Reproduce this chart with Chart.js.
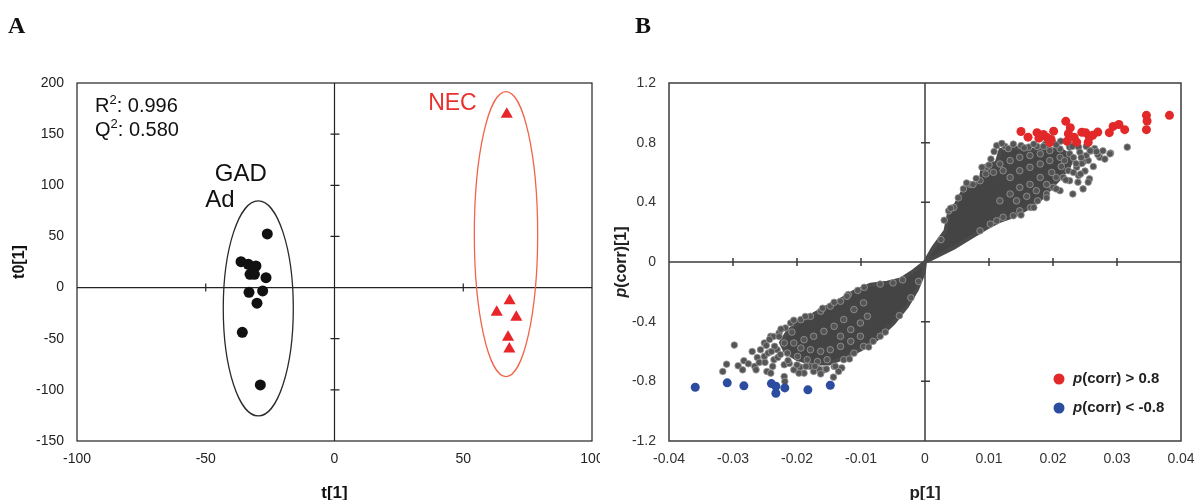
<!DOCTYPE html>
<html><head><meta charset="utf-8">
<script src="https://cdn.jsdelivr.net/npm/chart.js@4.4.1/dist/chart.umd.min.js"></script>
<style>
html,body{margin:0;padding:0;background:#fff;overflow:hidden;width:1195px;height:500px;}
#wrap{position:relative;width:1195px;height:500px;overflow:hidden;background:#fff;}
canvas{position:absolute;top:0;}
#cA{left:0;} #cB{left:600px;}
.pl{position:absolute;font-family:"Liberation Serif","DejaVu Serif",serif;font-weight:bold;font-size:24px;line-height:24px;color:#111;}
</style></head><body>
<div id="wrap">
<canvas id="cA" width="600" height="504"></canvas>
<canvas id="cB" width="595" height="504"></canvas>
<div class="pl" style="left:8px;top:13px">A</div>
<div class="pl" style="left:635px;top:13px">B</div>
</div>
<script>
// ---------------- Panel A : OPLS-DA score plot ----------------
const gadT1 = [-26.1,-36.3,-33.5,-30.5,-32.8,-31.1,-26.6,-33.2,-27.9,-30.1,-35.8,-28.8];
const gadT0 = [52.4,25.3,22.8,21.1,13.0,13.0,9.7,-4.6,-3.3,-15.3,-43.7,-95.2];
const necT1 = [66.9,68.0,63.0,70.6,67.4,67.9];
const necT0 = [169.4,-12.8,-24.1,-29.0,-48.6,-60.0];
const aTicksX = [-100,-50,0,50,100];
const aTicksY = [200,150,100,50,0,-50,-100,-150];
// confidence ellipses: [centre t1, centre t0, half-width, half-height]
const gadEllipse = [-29.6,-20.4,13.6,105.1];
const necEllipse = [66.6,52.2,12.3,139.3];

// ---------------- Panel B : S-plot ----------------
const redP    = [0.0150,0.0161,0.0175,0.0182,0.0190,0.0197,0.0201,0.0195,0.0220,0.0227,0.0224,0.0233,0.0237,0.0251,0.0257,0.0255,0.0270,0.0288,0.0294,0.0303,0.0312,0.0346,0.0347,0.0346,0.0382,0.0185,0.0245,0.0222,0.0262,0.0178];
const redCorr = [0.875,0.837,0.867,0.848,0.837,0.822,0.877,0.800,0.943,0.900,0.860,0.837,0.803,0.867,0.837,0.803,0.871,0.867,0.909,0.922,0.887,0.983,0.945,0.887,0.983,0.855,0.870,0.810,0.850,0.830];
const blueP    = [-0.0359,-0.0309,-0.0283,-0.0240,-0.0233,-0.0233,-0.0219,-0.0183,-0.0148];
const blueCorr = [-0.840,-0.810,-0.830,-0.815,-0.833,-0.880,-0.844,-0.857,-0.826];
// dense mass of the variable cloud (outline)
const coreP    = [0,0.0019,0.0045,0.0071,0.0097,0.0117,0.0140,0.0160,0.0180,0.0195,0.0210,0.0225,0.0230,0.0215,0.0190,0.0165,0.0140,0.0118,0.0112,0.0090,0.0087,0.0062,0.0047,0.0038,0.0032,0.0013,0,
                  -0.0002,-0.00125,-0.0028,-0.0049,-0.0075,-0.0100,-0.0125,-0.0150,-0.0175,-0.0200,-0.0218,-0.0225,-0.0215,-0.0197,-0.0178,-0.0153,-0.0132,-0.0111,-0.0085,-0.0059,-0.0038,-0.0018,0];
const coreCorr = [0,0.040,0.096,0.164,0.231,0.276,0.310,0.360,0.420,0.490,0.560,0.640,0.700,0.745,0.760,0.750,0.765,0.750,0.665,0.640,0.534,0.495,0.375,0.340,0.209,0.096,0,
                  -0.072,-0.184,-0.296,-0.409,-0.515,-0.585,-0.640,-0.680,-0.680,-0.650,-0.600,-0.540,-0.470,-0.400,-0.360,-0.300,-0.255,-0.200,-0.152,-0.139,-0.117,-0.061,0];
// individually visible variables
const greyP = [0.0112,0.0125,0.0138,0.0150,0.0162,0.0175,0.0188,0.0200,0.0212,0.0225,0.0240,0.0252,0.0265,0.0278,0.0290,0.0316,
 0.0273,0.0281,0.0289,0.0255,0.0263,0.0247,0.0257,0.0255,0.0239,0.0226,0.0247,0.0231,0.0211,0.0200,0.0216,0.0224,0.0237,0.0190,0.0176,0.0165,0.0148,0.0138,0.0122,0.0112,0.0102,0.0086,
 0.0143,0.0159,0.0174,0.0190,0.0205,0.0180,0.0164,0.0148,0.0133,0.0117,0.0133,0.0148,0.0164,0.0180,0.0195,0.0211,0.0226,0.0242,0.0252,
 0.0117,0.0133,0.0148,0.0164,0.0180,0.0195,0.0211,0.0226,0.0097,0.0107,0.0122,0.0089,0.0086,0.0071,0.0060,0.0045,0.0037,
 0.0150,0.0170,0.0190,0.0205,0.0220,0.0232,0.0245,0.0250,0.0240,0.0100,0.0095,0.0075,0.0052,0.0040,0.0030,0.0025,0.0065,0.0080,0.0103,0.0108,0.0120,0.0130,0.0155,0.0170,0.0185,0.0205,0.0230,0.0260,0.0270,
 0.0218,0.0232,0.0244,0.0236,0.0213,0.0198,0.0243,0.0268,0.0258,
 -0.0120,-0.0132,-0.0148,-0.0163,-0.0179,-0.0194,-0.0210,-0.0218,-0.0228,-0.0241,-0.0251,-0.0257,-0.0251,-0.0236,-0.0220,-0.0205,-0.0189,-0.0174,-0.0158,-0.0142,-0.0127,-0.0111,-0.0096,-0.0081,-0.0070,
 -0.0220,-0.0205,-0.0189,-0.0174,-0.0158,-0.0142,-0.0127,-0.0231,-0.0215,-0.0199,-0.0184,-0.0168,-0.0153,-0.0194,-0.0179,-0.0163,-0.0148,-0.0132,-0.0116,-0.0101,-0.0132,-0.0116,-0.0101,-0.0090,-0.0111,-0.0096,
 -0.0035,-0.0050,-0.0070,-0.0095,-0.0105,-0.0122,-0.0142,-0.0160,-0.0187,-0.0205,-0.0225,-0.0237,-0.0248,-0.0245,-0.0230,-0.0212,-0.0195,-0.0165,-0.0140,-0.0118,-0.0088,-0.0062,-0.0040,-0.0022,-0.0010,-0.0238,-0.0262,-0.0270,-0.0266,-0.0180,-0.0130,-0.0163,
 -0.0243,-0.0235,-0.0226,-0.0214,-0.0200,-0.0186,-0.0172,-0.0240,-0.0228,-0.0208,
 -0.0298,-0.0310,-0.0316,-0.0292,-0.0283,-0.0276,-0.0285,-0.0264,-0.0259,-0.0250,-0.0247,-0.0241,-0.0220,-0.0219,-0.0197,-0.0154,-0.0143,-0.0135];
const greyCorr = [0.780,0.775,0.790,0.780,0.770,0.775,0.790,0.800,0.810,0.790,0.770,0.775,0.760,0.745,0.730,0.770,
 0.702,0.690,0.725,0.680,0.640,0.670,0.557,0.535,0.535,0.545,0.490,0.456,0.478,0.500,0.567,0.612,0.635,0.456,0.410,0.366,0.343,0.310,0.300,0.276,0.254,0.209,
 0.410,0.440,0.478,0.520,0.567,0.567,0.520,0.500,0.456,0.410,0.567,0.612,0.635,0.657,0.680,0.702,0.725,0.736,0.714,
 0.657,0.680,0.702,0.714,0.725,0.747,0.758,0.770,0.635,0.601,0.612,0.635,0.545,0.520,0.490,0.366,0.343,
 0.315,0.365,0.430,0.490,0.550,0.600,0.660,0.610,0.580,0.650,0.590,0.520,0.430,0.360,0.280,0.150,0.530,0.560,0.690,0.740,0.795,0.760,0.765,0.790,0.775,0.785,0.775,0.745,0.720,
 0.680,0.700,0.700,0.660,0.640,0.600,0.590,0.740,0.745,
 -0.218,-0.263,-0.296,-0.330,-0.364,-0.386,-0.409,-0.442,-0.476,-0.498,-0.543,-0.588,-0.633,-0.655,-0.689,-0.723,-0.745,-0.734,-0.723,-0.700,-0.655,-0.611,-0.566,-0.532,-0.498,
 -0.543,-0.543,-0.521,-0.498,-0.465,-0.431,-0.386,-0.588,-0.611,-0.633,-0.655,-0.667,-0.655,-0.577,-0.588,-0.599,-0.588,-0.566,-0.532,-0.498,-0.498,-0.453,-0.409,-0.364,-0.319,-0.274,
 -0.120,-0.140,-0.148,-0.170,-0.190,-0.230,-0.270,-0.310,-0.365,-0.390,-0.450,-0.500,-0.560,-0.610,-0.640,-0.680,-0.705,-0.720,-0.700,-0.650,-0.570,-0.470,-0.360,-0.240,-0.130,-0.700,-0.640,-0.600,-0.700,-0.700,-0.710,-0.750,
 -0.520,-0.565,-0.620,-0.660,-0.690,-0.700,-0.700,-0.600,-0.500,-0.470,
 -0.557,-0.685,-0.734,-0.696,-0.662,-0.682,-0.723,-0.723,-0.673,-0.673,-0.734,-0.745,-0.768,-0.801,-0.745,-0.718,-0.772,-0.734];
const bTicksX = [-0.04,-0.03,-0.02,-0.01,0,0.01,0.02,0.03,0.04];
const bTickLabelsX = ['-0.04','-0.03','-0.02','-0.01','0','0.01','0.02','0.03','0.04'];
const bTicksY = [1.2,0.8,0.4,0,-0.4,-0.8,-1.2];
const bTickLabelsY = ['1.2','0.8','0.4','0','-0.4','-0.8','-1.2'];

const SANS = '"Liberation Sans", Arial, Helvetica, sans-serif';
const pts = (xs, ys) => xs.map((v, i) => ({x: v, y: ys[i]}));

function frameAndZeroLines(chart, xt, yt, color, lw) {
  const {ctx, chartArea: a, scales: {x, y}} = chart;
  ctx.save();
  ctx.strokeStyle = color; ctx.lineWidth = lw;
  ctx.strokeRect(a.left, a.top, a.right - a.left, a.bottom - a.top);
  const x0 = x.getPixelForValue(0), y0 = y.getPixelForValue(0);
  ctx.beginPath();
  ctx.moveTo(a.left, y0); ctx.lineTo(a.right, y0);
  ctx.moveTo(x0, a.top); ctx.lineTo(x0, a.bottom);
  xt.forEach(v => { if (v !== 0 && v !== xt[0] && v !== xt[xt.length-1]) { const px = x.getPixelForValue(v); ctx.moveTo(px, y0 - 4); ctx.lineTo(px, y0 + 4); } });
  yt.forEach(v => { if (v !== 0 && v !== yt[0] && v !== yt[yt.length-1]) { const py = y.getPixelForValue(v); ctx.moveTo(x0 - 4, py); ctx.lineTo(x0 + 5, py); } });
  ctx.stroke();
  ctx.restore();
}

function drawEllipse(chart, e, color) {
  const {ctx, scales: {x, y}} = chart;
  const cx = x.getPixelForValue(e[0]), cy = y.getPixelForValue(e[1]);
  const rx = Math.abs(x.getPixelForValue(e[0] + e[2]) - cx);
  const ry = Math.abs(y.getPixelForValue(e[1] + e[3]) - cy);
  ctx.save(); ctx.strokeStyle = color; ctx.lineWidth = 1.3;
  ctx.beginPath(); ctx.ellipse(cx, cy, rx, ry, 0, 0, Math.PI * 2); ctx.stroke(); ctx.restore();
}

const decorA = {
  id: 'decorA',
  beforeDatasetsDraw(chart) {
    frameAndZeroLines(chart, aTicksX, aTicksY, '#222', 1.2);
    drawEllipse(chart, gadEllipse, '#2a2a2a');
    drawEllipse(chart, necEllipse, '#f0654a');
  },
  afterDatasetsDraw(chart) {
    const {ctx, scales: {x, y}} = chart;
    ctx.save();
    ctx.fillStyle = '#111';
    ctx.textBaseline = 'alphabetic'; ctx.textAlign = 'left';
    const sup = (label, rest, vx, vy) => {
      let px = x.getPixelForValue(vx); const py = y.getPixelForValue(vy);
      ctx.font = '20px ' + SANS; ctx.fillText(label, px, py); px += ctx.measureText(label).width;
      ctx.font = '13px ' + SANS; ctx.fillText('2', px, py - 8); px += ctx.measureText('2').width;
      ctx.font = '20px ' + SANS; ctx.fillText(rest, px, py);
    };
    sup('R', ': 0.996', -93, 171.7);
    sup('Q', ': 0.580', -93, 148.2);
    ctx.textAlign = 'center'; ctx.textBaseline = 'middle';
    ctx.font = '24px ' + SANS;
    ctx.fillText('GAD', x.getPixelForValue(-36.4), y.getPixelForValue(111));
    ctx.fillText('Ad', x.getPixelForValue(-44.5), y.getPixelForValue(85.6));
    ctx.fillStyle = '#e8322e'; ctx.font = '23px ' + SANS;
    ctx.fillText('NEC', x.getPixelForValue(45.8), y.getPixelForValue(179.5));
    ctx.restore();
  }
};

const decorB = {
  id: 'decorB',
  beforeDatasetsDraw(chart) {
    frameAndZeroLines(chart, bTicksX, bTicksY, '#3c3c3c', 1.5);
  },
  afterDatasetsDraw(chart) {
    const {ctx, chartArea: a} = chart;
    ctx.save();
    const items = [[chart.data.datasets[0].pointBackgroundColor, ' > 0.8', 379], [chart.data.datasets[1].pointBackgroundColor, ' < -0.8', 408]];
    items.forEach(([c, t, py]) => {
      ctx.fillStyle = c; ctx.beginPath(); ctx.arc(459, py, 5.5, 0, Math.PI * 2); ctx.fill();
      ctx.fillStyle = '#222'; ctx.textBaseline = 'middle'; ctx.textAlign = 'left';
      let px = 473;
      ctx.font = 'italic bold 15px ' + SANS; ctx.fillText('p', px, py); px += ctx.measureText('p').width;
      ctx.font = 'bold 15px ' + SANS; ctx.fillText('(corr)' + t, px, py);
    });
    ctx.translate(22, (a.top + a.bottom) / 2); ctx.rotate(-Math.PI / 2);
    ctx.fillStyle = '#222'; ctx.textBaseline = 'middle'; ctx.textAlign = 'left';
    ctx.font = 'italic bold 16px ' + SANS; const w1 = ctx.measureText('p').width;
    ctx.font = 'bold 16px ' + SANS; const w2 = ctx.measureText('(corr)[1]').width;
    let sx = -(w1 + w2) / 2;
    ctx.font = 'italic bold 16px ' + SANS; ctx.fillText('p', sx, 0);
    ctx.font = 'bold 16px ' + SANS; ctx.fillText('(corr)[1]', sx + w1, 0);
    ctx.restore();
  }
};

function axis(min, max, ticks, labels, isX, size, pad, color, title) {
  return {
    type: 'linear', min, max,
    afterBuildTicks: s => { s.ticks = ticks.map(v => ({value: v})); },
    afterFit: s => {
      if (isX) { s.height = size; s.paddingLeft = 0; s.paddingRight = 0; }
      else { s.width = size; s.paddingTop = 0; s.paddingBottom = 0; }
    },
    grid: {display: false, drawTicks: false},
    border: {display: false},
    ticks: {padding: pad, color, autoSkip: false, maxRotation: 0, font: {family: SANS, size: 14},
            callback: (v, i) => labels[i]},
    title: title
  };
}

new Chart(document.getElementById('cA'), {
  type: 'scatter',
  data: {datasets: [
    {label: 'GAD Ad', data: pts(gadT1, gadT0), pointStyle: 'circle', pointRadius: 5.5, pointBackgroundColor: '#111', pointBorderWidth: 0},
    {label: 'NEC', data: pts(necT1, necT0), pointStyle: 'triangle', pointRadius: 7, pointBackgroundColor: '#e8262a', pointBorderWidth: 0}
  ]},
  options: {
    responsive: false, animation: false, devicePixelRatio: 1, events: [],
    layout: {padding: {top: 83, right: 8, left: 0, bottom: 0}},
    plugins: {legend: {display: false}, tooltip: {enabled: false}},
    scales: {
      x: axis(-100, 100, aTicksX, aTicksX.map(String), true, 63, 10, '#222',
        {display: true, text: 't[1]', color: '#111', font: {family: SANS, size: 17, weight: 'bold'}, padding: {top: 0, bottom: 0}}),
      y: axis(-150, 200, aTicksY, aTicksY.map(String), false, 77, 13, '#222',
        {display: true, text: 't0[1]', color: '#111', font: {family: SANS, size: 16, weight: 'bold'}, padding: {top: 10, bottom: 0}})
    }
  },
  plugins: [decorA]
});

new Chart(document.getElementById('cB'), {
  type: 'scatter',
  data: {datasets: [
    {label: 'p(corr) > 0.8', data: pts(redP, redCorr), pointRadius: 4.5, pointBackgroundColor: '#e22828', pointBorderWidth: 0, order: 0},
    {label: 'p(corr) < -0.8', data: pts(blueP, blueCorr), pointRadius: 4.5, pointBackgroundColor: '#2b4c9f', pointBorderWidth: 0, order: 0},
    {label: 'variables', data: pts(greyP, greyCorr), pointRadius: 3.3, pointBackgroundColor: '#555', pointBorderColor: '#999', pointBorderWidth: 0.8, order: 1},
    {label: 'dense variables', data: pts(coreP, coreCorr), showLine: true, fill: 'shape', backgroundColor: '#444', borderColor: '#4a4a4a', borderWidth: 4, pointRadius: 0, tension: 0, order: 2}
  ]},
  options: {
    responsive: false, animation: false, devicePixelRatio: 1, events: [],
    layout: {padding: {top: 83, right: 14, left: 0, bottom: 0}},
    plugins: {legend: {display: false}, tooltip: {enabled: false}},
    scales: {
      x: axis(-0.04, 0.04, bTicksX, bTickLabelsX, true, 63, 10, '#333',
        {display: true, text: 'p[1]', color: '#222', font: {family: SANS, size: 17, weight: 'bold'}, padding: {top: 0, bottom: 0}}),
      y: axis(-1.2, 1.2, bTicksY, bTickLabelsY, false, 69, 13, '#333', {display: false})
    }
  },
  plugins: [decorB]
});
</script>
</body></html>
